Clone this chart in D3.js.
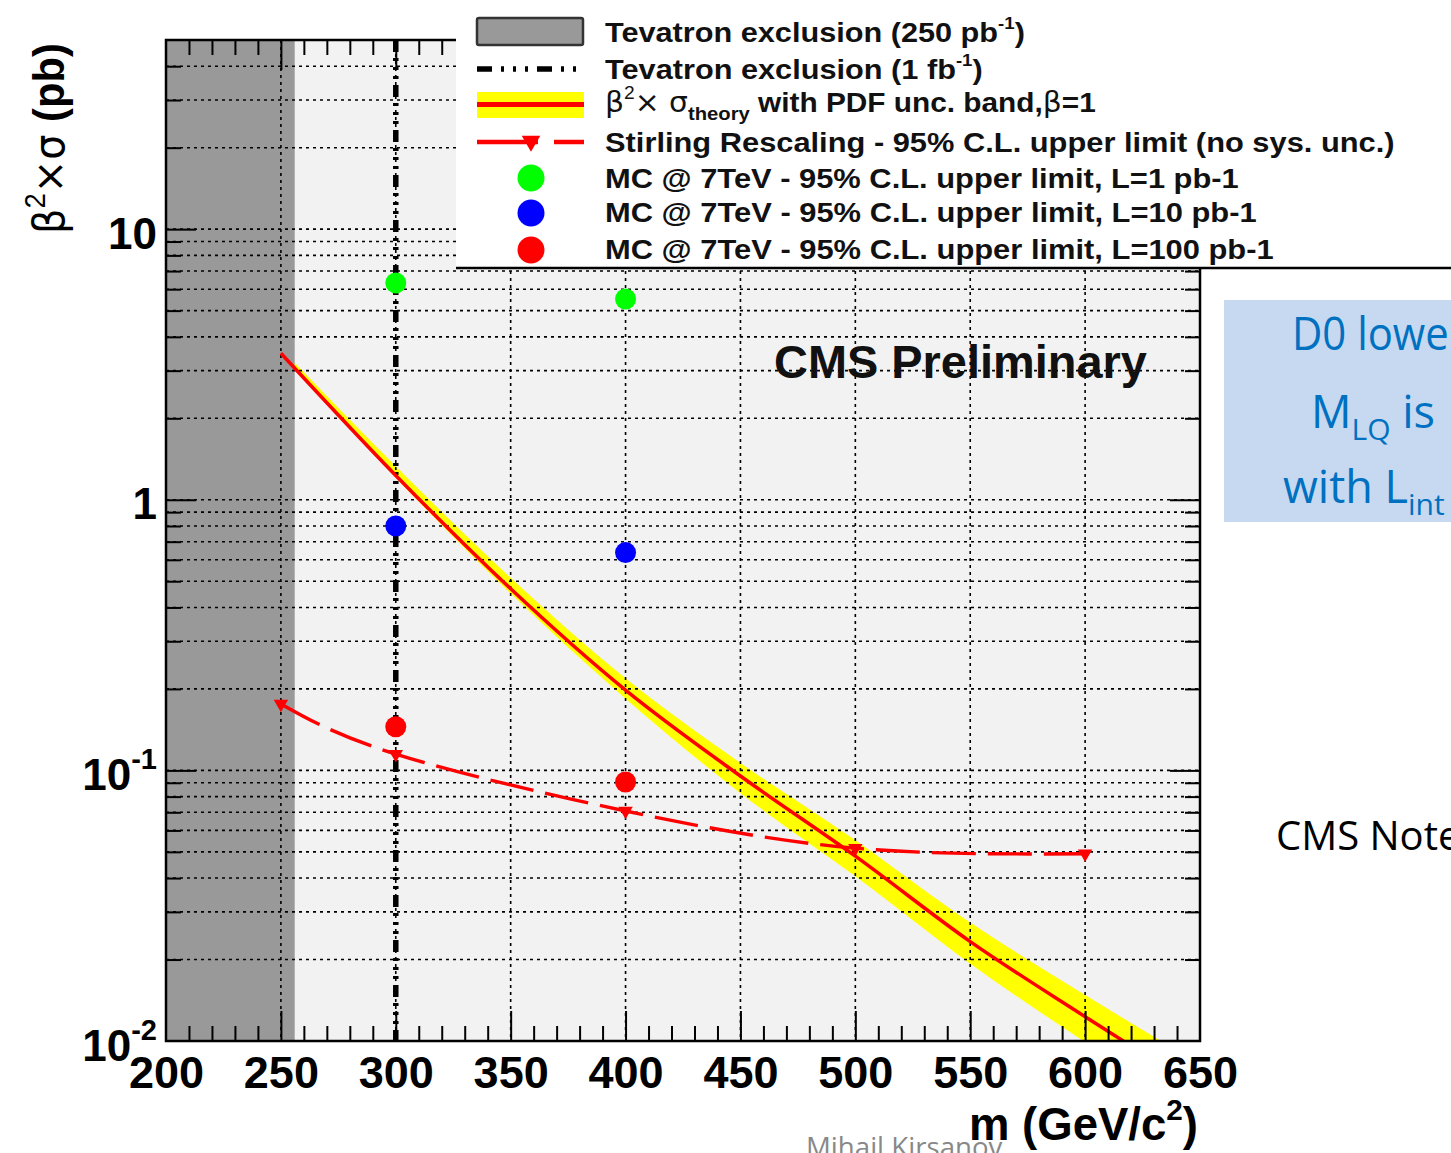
<!DOCTYPE html>
<html><head><meta charset="utf-8">
<script src="https://cdn.jsdelivr.net/npm/d3@7"></script>
<style>body{margin:0;background:#fff;overflow:hidden} svg{display:block}</style>
</head><body>
<svg id="c" width="1451" height="1153"></svg>
<script>
// ---------------- data ----------------
const masses        = [250, 300, 350, 400, 450, 500, 550, 600, 650];
const theoryCentral = [3.48, 1.23, 0.469, 0.198, 0.0953, 0.0482, 0.0233, 0.0123, 0.0066];
const theoryUpper   = [3.62, 1.33, 0.515, 0.219, 0.1065, 0.0552, 0.0274, 0.0148, 0.0082];
const theoryLower   = [3.45, 1.205, 0.45, 0.184, 0.0824, 0.0406, 0.0193, 0.0099, 0.0052];
const stirlingMass  = [250, 300, 400, 500, 600];
const stirlingLimit = [0.176, 0.1149, 0.0708, 0.0516, 0.0492];
const mcMass   = [300, 400];
const mcL1     = [6.33, 5.52];
const mcL10    = [0.80, 0.638];
const mcL100   = [0.145, 0.0906];
const tevatron250Limit = 256;
const tevatron1fbLimit = 300;
const xTickLabels = [200, 250, 300, 350, 400, 450, 500, 550, 600, 650];
const yDecades    = [0.01, 0.1, 1, 10];
const yTickBase   = ["10", "10", "1", "10"];
const yTickExp    = ["-2", "-1", "", ""];
const legendLabels = [
  "Tevatron exclusion (250 pb", "Tevatron exclusion (1 fb", "theory",
  "Stirling Rescaling - 95% C.L. upper limit (no sys. unc.)",
  "MC @ 7TeV - 95% C.L. upper limit, L=1 pb-1",
  "MC @ 7TeV - 95% C.L. upper limit, L=10 pb-1",
  "MC @ 7TeV - 95% C.L. upper limit, L=100 pb-1"
];

// ---------------- layout ----------------
const L = 166, R = 1200, T = 40, B = 1041;
const svg = d3.select("#c");
const x = d3.scaleLinear().domain([200, 650]).range([L, R]);
const y = d3.scaleLog().domain([0.01, 50]).range([B, T]);
const SANS = "'Liberation Sans', Arial, Helvetica, sans-serif";
const SLIDE = "'Open Sans', 'Noto Sans', sans-serif";

const defs = svg.append("defs");
defs.append("clipPath").attr("id", "plotclip").append("rect")
  .attr("x", L).attr("y", T).attr("width", R - L).attr("height", B - T);

function fitText(parent, tx, ty, width, build, rot) {
  const g = parent.append("g").attr("transform", `translate(${tx},${ty})` + (rot ? ` rotate(${rot})` : ""));
  const t = g.append("text").attr("x", 0).attr("y", 0);
  build(t);
  if (width) {
    const w = t.node().getBBox().width;
    if (w > 0) t.attr("transform", `scale(${width / w},1)`);
  }
  return t;
}

// plot background
svg.append("rect").attr("x", L).attr("y", T).attr("width", R - L).attr("height", B - T).attr("fill", "#f2f2f2");

const plot = svg.append("g").attr("clip-path", "url(#plotclip)");

// theory band
const theory = masses.map((m, i) => ({m, c: theoryCentral[i], lo: theoryLower[i], hi: theoryUpper[i]}));
plot.append("path").datum(theory)
  .attr("d", d3.area().x(d => x(d.m)).y0(d => y(d.lo)).y1(d => y(d.hi)).curve(d3.curveMonotoneX))
  .attr("fill", "#ffff00");

// Tevatron 250 pb-1 exclusion
plot.append("rect").attr("x", x(200)).attr("y", T)
  .attr("width", x(tevatron250Limit) - x(200)).attr("height", B - T).attr("fill", "#999999");

// grid
const gridY = [];
yDecades.forEach(d => { for (let k = 1; k <= 9; k++) { const v = +(k * d).toPrecision(3); if (v > 0.01 && v < 50) gridY.push(v); } });
const gridX = [250, 300, 350, 400, 450, 500, 550, 600];
plot.append("g").selectAll("line").data(gridY).join("line")
  .attr("x1", L).attr("x2", R).attr("y1", d => y(d)).attr("y2", d => y(d))
  .attr("stroke", "#000").attr("stroke-width", 1.6).attr("stroke-dasharray", "3,4");
plot.append("g").selectAll("line").data(gridX).join("line")
  .attr("x1", d => x(d)).attr("x2", d => x(d)).attr("y1", T).attr("y2", B)
  .attr("stroke", "#000").attr("stroke-width", 1.6).attr("stroke-dasharray", "3,4");

// Tevatron 1 fb-1 line
plot.append("line").attr("x1", x(tevatron1fbLimit)).attr("x2", x(tevatron1fbLimit)).attr("y1", T).attr("y2", B)
  .attr("stroke", "#000").attr("stroke-width", 5.5).attr("stroke-dasharray", "12,6,3,6,3,6,3,6");

// theory central line
plot.append("path").datum(theory)
  .attr("d", d3.line().x(d => x(d.m)).y(d => y(d.c)).curve(d3.curveMonotoneX))
  .attr("fill", "none").attr("stroke", "#ff0000").attr("stroke-width", 3.5);

// Stirling rescaling
const stir = stirlingMass.map((m, i) => ({m, v: stirlingLimit[i]}));
plot.append("path").datum(stir)
  .attr("d", d3.line().x(d => x(d.m)).y(d => y(d.v)).curve(d3.curveNatural))
  .attr("fill", "none").attr("stroke", "#ff0000").attr("stroke-width", 3.4).attr("stroke-dasharray", "44,12");
const tri = d3.symbol(d3.symbolTriangle, 90)();
plot.append("g").selectAll("path").data(stir).join("path")
  .attr("d", tri).attr("transform", d => `translate(${x(d.m)},${y(d.v)}) rotate(180)`).attr("fill", "#ff0000");

// MC points
[[mcL1, "#00ff00"], [mcL10, "#0000ff"], [mcL100, "#ff0000"]].forEach(([vals, col]) => {
  plot.append("g").selectAll("circle").data(mcMass.map((m, i) => ({m, v: vals[i]}))).join("circle")
    .attr("cx", d => x(d.m)).attr("cy", d => y(d.v)).attr("r", 10.5).attr("fill", col);
});

// ticks
const minorX = d3.range(210, 650, 10).filter(v => v % 50 !== 0);
const majorX = [250, 300, 350, 400, 450, 500, 550, 600];
const minorY = gridY.filter(v => !yDecades.includes(v));
const majorY = [0.1, 1, 10];
function tickAxis(gen, vals, size, tr) {
  const g = svg.append("g").attr("transform", tr).call(gen.tickValues(vals).tickSize(size).tickFormat(""));
  g.select(".domain").remove();
  g.selectAll("line").attr("stroke", "#000").attr("stroke-width", 2);
}
tickAxis(d3.axisTop(x), minorX, 15, `translate(0,${B})`);
tickAxis(d3.axisTop(x), majorX, 30, `translate(0,${B})`);
tickAxis(d3.axisBottom(x), minorX, 15, `translate(0,${T})`);
tickAxis(d3.axisBottom(x), majorX, 30, `translate(0,${T})`);
tickAxis(d3.axisRight(y), minorY, 15, `translate(${L},0)`);
tickAxis(d3.axisRight(y), majorY, 30, `translate(${L},0)`);
tickAxis(d3.axisLeft(y), minorY, 15, `translate(${R},0)`);
tickAxis(d3.axisLeft(y), majorY, 30, `translate(${R},0)`);

// frame
svg.append("rect").attr("x", L).attr("y", T).attr("width", R - L).attr("height", B - T)
  .attr("fill", "none").attr("stroke", "#000").attr("stroke-width", 2.5);

// x tick labels
const xl = svg.append("g").attr("transform", `translate(0,${B})`)
  .call(d3.axisBottom(x).tickValues(xTickLabels).tickSize(0).tickFormat(d3.format("d")));
xl.select(".domain").remove();
xl.selectAll("text").attr("y", 47).attr("dy", 0)
  .attr("font-family", SANS).attr("font-weight", "bold").attr("font-size", 45).attr("fill", "#000");

// y tick labels
const yl = svg.append("g").attr("transform", `translate(${L},0)`)
  .call(d3.axisLeft(y).tickValues(yDecades).tickSize(0).tickFormat(""));
yl.select(".domain").remove();
yl.selectAll(".tick").each(function (d) {
  const i = yDecades.indexOf(d);
  const t = d3.select(this).append("text").attr("x", -9).attr("y", 19).attr("text-anchor", "end")
    .attr("font-family", SANS).attr("font-weight", "bold").attr("font-size", 44).attr("fill", "#000");
  t.append("tspan").text(yTickBase[i]);
  if (yTickExp[i]) t.append("tspan").attr("dy", -21).attr("font-size", 29).text(yTickExp[i]);
});

// axis titles
fitText(svg, 969, 1140, 229, t => {
  t.attr("font-family", SANS).attr("font-weight", "bold").attr("font-size", 46).attr("fill", "#000");
  t.append("tspan").text("m (GeV/c");
  t.append("tspan").attr("dy", -20).attr("font-size", 30).text("2");
  t.append("tspan").attr("dy", 20).text(")");
});
fitText(svg, 64, 234, 191, t => {
  t.attr("font-family", SANS).attr("font-size", 44).attr("fill", "#000");
  t.append("tspan").attr("font-family", "'DejaVu Sans', sans-serif").attr("font-size", 42).text("β");
  t.append("tspan").attr("dy", -19).attr("font-size", 29).text("2");
  t.append("tspan").attr("dy", 19).attr("font-family", "'DejaVu Sans', sans-serif").attr("font-size", 42).text("×σ ");
  t.append("tspan").attr("font-weight", "bold").text("(pb)");
}, -90);

// CMS Preliminary
fitText(svg, 774, 378, 373, t => {
  t.attr("font-family", SANS).attr("font-weight", "bold").attr("font-size", 47).attr("fill", "#111").text("CMS Preliminary");
});

// ---------------- legend ----------------
const lg = svg.append("g");
lg.append("rect").attr("x", 456).attr("y", 0).attr("width", 995).attr("height", 268).attr("fill", "#fff");
lg.append("line").attr("x1", 456).attr("x2", 1451).attr("y1", 268).attr("y2", 268).attr("stroke", "#000").attr("stroke-width", 2.5);
// symbols
lg.append("rect").attr("x", 477).attr("y", 18).attr("width", 106).attr("height", 27).attr("rx", 2)
  .attr("fill", "#999").attr("stroke", "#333").attr("stroke-width", 2.5);
lg.append("line").attr("x1", 477).attr("x2", 584).attr("y1", 69).attr("y2", 69)
  .attr("stroke", "#000").attr("stroke-width", 5.5).attr("stroke-dasharray", "15,9,3,9,3,9,3,9");
lg.append("rect").attr("x", 477).attr("y", 92).attr("width", 107).attr("height", 26).attr("fill", "#ffff00");
lg.append("line").attr("x1", 477).attr("x2", 584).attr("y1", 104.5).attr("y2", 104.5).attr("stroke", "#ff0000").attr("stroke-width", 5);
lg.append("line").attr("x1", 477).attr("x2", 538).attr("y1", 142).attr("y2", 142).attr("stroke", "#ff0000").attr("stroke-width", 4.5);
lg.append("line").attr("x1", 554).attr("x2", 584).attr("y1", 142).attr("y2", 142).attr("stroke", "#ff0000").attr("stroke-width", 4.5);
lg.append("path").attr("d", d3.symbol(d3.symbolTriangle, 150)()).attr("transform", "translate(531,141) rotate(180)").attr("fill", "#ff0000");
[[178, "#00ff00"], [213, "#0000ff"], [250, "#ff0000"]].forEach(([cy, col]) =>
  lg.append("circle").attr("cx", 531).attr("cy", cy).attr("r", 13.5).attr("fill", col));

const legStyle = t => t.attr("font-family", SANS).attr("font-weight", "bold").attr("font-size", 28).attr("fill", "#111");
fitText(lg, 605, 42, 420, t => {
  legStyle(t); t.append("tspan").text(legendLabels[0]);
  t.append("tspan").attr("dy", -13).attr("font-size", 17).text("-1");
  t.append("tspan").attr("dy", 13).text(")");
});
fitText(lg, 605, 79, 378, t => {
  legStyle(t); t.append("tspan").text(legendLabels[1]);
  t.append("tspan").attr("dy", -13).attr("font-size", 17).text("-1");
  t.append("tspan").attr("dy", 13).text(")");
});
fitText(lg, 605, 112, 491, t => {
  legStyle(t);
  t.append("tspan").attr("font-family", "'DejaVu Sans', sans-serif").attr("font-weight", "normal").text("β");
  t.append("tspan").attr("dy", -13).attr("font-size", 18).attr("font-weight", "normal").text("2");
  t.append("tspan").attr("dy", 13).attr("font-family", "'DejaVu Sans', sans-serif").attr("font-weight", "normal").text("× σ");
  t.append("tspan").attr("dy", 8).attr("font-size", 19).text(legendLabels[2]);
  t.append("tspan").attr("dy", -8).text(" with PDF unc. band,");
  t.append("tspan").attr("font-family", "'DejaVu Sans', sans-serif").attr("font-weight", "normal").text("β");
  t.append("tspan").text("=1");
});
fitText(lg, 605, 152, 790, t => { legStyle(t); t.text(legendLabels[3]); });
fitText(lg, 605, 188, 634, t => { legStyle(t); t.text(legendLabels[4]); });
fitText(lg, 605, 222, 652, t => { legStyle(t); t.text(legendLabels[5]); });
fitText(lg, 605, 259, 669, t => { legStyle(t); t.text(legendLabels[6]); });

// ---------------- slide annotations ----------------
svg.append("rect").attr("x", 1224).attr("y", 300).attr("width", 240).attr("height", 222).attr("fill", "#c6d9f1");
const blue = "#0070c0";
fitText(svg, 1292, 350, null, t => {
  t.attr("font-family", SLIDE).attr("font-size", 45).attr("fill", blue).attr("transform", "scale(0.93,1)").text("D0 lower");
});
svg.append("text").attr("x", 1311).attr("y", 428).attr("font-family", SLIDE).attr("font-size", 45).attr("fill", blue)
  .call(t => { t.append("tspan").text("M"); t.append("tspan").attr("dy", 12).attr("font-size", 30).text("LQ"); t.append("tspan").attr("dy", -12).text(" is"); });
svg.append("text").attr("x", 1283).attr("y", 503).attr("font-family", SLIDE).attr("font-size", 45).attr("fill", blue)
  .call(t => { t.append("tspan").text("with L"); t.append("tspan").attr("dy", 12).attr("font-size", 30).text("int"); });
svg.append("text").attr("x", 1276).attr("y", 850).attr("font-family", SLIDE).attr("font-size", 40).attr("fill", "#000").text("CMS Note");
fitText(svg, 806, 1157, 197, t => {
  t.attr("font-family", SLIDE).attr("font-size", 27).attr("fill", "#888").text("Mihail Kirsanov");
});
</script>
</body></html>
